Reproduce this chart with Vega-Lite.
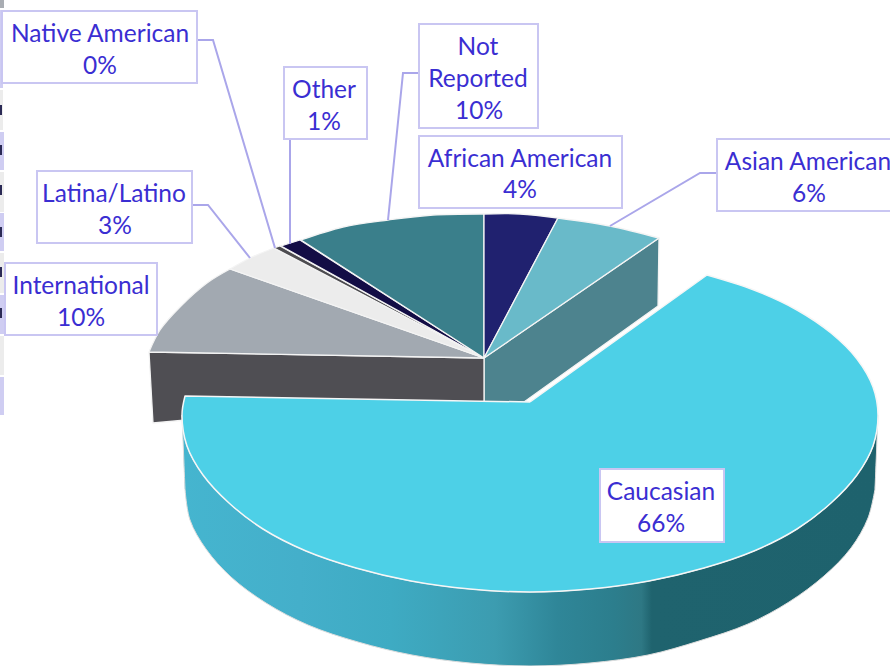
{
"$schema":"https://vega.github.io/schema/vega-lite/v6.json",
"width":890,"height":666,"padding":0,
"autosize":"none",
"background":"white",
"config":{"view":{"stroke":null}},
"datasets":{
"walls":[
{"part":"Asian wall","i":1,"x":484,"y":358},{"part":"Asian wall","i":2,"x":659,"y":238},{"part":"Asian wall","i":3,"x":658,"y":306},{"part":"Asian wall","i":4,"x":524,"y":402},{"part":"Asian wall","i":5,"x":484,"y":402},{"part":"Asian wall","i":6,"x":484,"y":358},
{"part":"International wall","i":1,"x":149,"y":352},{"part":"International wall","i":2,"x":484,"y":358},{"part":"International wall","i":3,"x":484,"y":402},{"part":"International wall","i":4,"x":186,"y":420},{"part":"International wall","i":5,"x":153,"y":423},{"part":"International wall","i":6,"x":149,"y":352}
],
"slices":[
{"part":"International","i":1,"x":484,"y":358},{"part":"International","i":2,"x":484,"y":358},{"part":"International","i":3,"x":149,"y":352},{"part":"International","i":4,"x":149,"y":352},{"part":"International","i":5,"x":160,"y":330},{"part":"International","i":6,"x":180,"y":307},{"part":"International","i":7,"x":207,"y":283},{"part":"International","i":8,"x":230,"y":269},{"part":"International","i":9,"x":230,"y":269},{"part":"International","i":10,"x":484,"y":358},{"part":"International","i":11,"x":484,"y":358},
{"part":"Latina/Latino","i":1,"x":484,"y":358},{"part":"Latina/Latino","i":2,"x":484,"y":358},{"part":"Latina/Latino","i":3,"x":230,"y":269},{"part":"Latina/Latino","i":4,"x":230,"y":269},{"part":"Latina/Latino","i":5,"x":250,"y":258},{"part":"Latina/Latino","i":6,"x":274,"y":248},{"part":"Latina/Latino","i":7,"x":274,"y":248},{"part":"Latina/Latino","i":8,"x":484,"y":358},{"part":"Latina/Latino","i":9,"x":484,"y":358},
{"part":"Native American","i":1,"x":484,"y":358},{"part":"Native American","i":2,"x":484,"y":358},{"part":"Native American","i":3,"x":274,"y":248},{"part":"Native American","i":4,"x":274,"y":248},{"part":"Native American","i":5,"x":280,"y":246},{"part":"Native American","i":6,"x":280,"y":246},{"part":"Native American","i":7,"x":484,"y":358},{"part":"Native American","i":8,"x":484,"y":358},
{"part":"Other","i":1,"x":484,"y":358},{"part":"Other","i":2,"x":484,"y":358},{"part":"Other","i":3,"x":281,"y":246},{"part":"Other","i":4,"x":281,"y":246},{"part":"Other","i":5,"x":300,"y":240},{"part":"Other","i":6,"x":300,"y":240},{"part":"Other","i":7,"x":484,"y":358},{"part":"Other","i":8,"x":484,"y":358},
{"part":"Not Reported","i":1,"x":484,"y":358},{"part":"Not Reported","i":2,"x":484,"y":358},{"part":"Not Reported","i":3,"x":301,"y":240},{"part":"Not Reported","i":4,"x":301,"y":240},{"part":"Not Reported","i":5,"x":343,"y":227},{"part":"Not Reported","i":6,"x":388,"y":220},{"part":"Not Reported","i":7,"x":433,"y":215},{"part":"Not Reported","i":8,"x":484,"y":214},{"part":"Not Reported","i":9,"x":484,"y":214},{"part":"Not Reported","i":10,"x":484,"y":358},{"part":"Not Reported","i":11,"x":484,"y":358},
{"part":"African American","i":1,"x":484,"y":358},{"part":"African American","i":2,"x":484,"y":358},{"part":"African American","i":3,"x":484,"y":214},{"part":"African American","i":4,"x":484,"y":214},{"part":"African American","i":5,"x":520,"y":214},{"part":"African American","i":6,"x":558,"y":218},{"part":"African American","i":7,"x":558,"y":218},{"part":"African American","i":8,"x":484,"y":358},{"part":"African American","i":9,"x":484,"y":358},
{"part":"Asian American","i":1,"x":484,"y":358},{"part":"Asian American","i":2,"x":484,"y":358},{"part":"Asian American","i":3,"x":558,"y":218},{"part":"Asian American","i":4,"x":558,"y":218},{"part":"Asian American","i":5,"x":610,"y":226},{"part":"Asian American","i":6,"x":659,"y":238},{"part":"Asian American","i":7,"x":659,"y":238},{"part":"Asian American","i":8,"x":484,"y":358},{"part":"Asian American","i":9,"x":484,"y":358}
],
"side":[
{"i":1,"x":182,"y":415},{"i":2,"x":182,"y":415},{"i":3,"x":187,"y":446},{"i":4,"x":203,"y":475},{"i":5,"x":229,"y":503},{"i":6,"x":263,"y":529},{"i":7,"x":306,"y":551},{"i":8,"x":356,"y":568},{"i":9,"x":411,"y":581},{"i":10,"x":470,"y":589},{"i":11,"x":530,"y":592},{"i":12,"x":590,"y":589},{"i":13,"x":649,"y":581},{"i":14,"x":704,"y":568},{"i":15,"x":754,"y":551},{"i":16,"x":797,"y":529},{"i":17,"x":831,"y":503},{"i":18,"x":857,"y":475},{"i":19,"x":873,"y":446},{"i":20,"x":878,"y":415},{"i":21,"x":878,"y":415},
{"i":22,"x":875,"y":489},{"i":23,"x":875,"y":489},{"i":24,"x":868,"y":518},{"i":25,"x":851,"y":548},{"i":26,"x":824,"y":576},{"i":27,"x":789,"y":602},{"i":28,"x":748,"y":624},{"i":29,"x":699,"y":641},{"i":30,"x":648,"y":655},{"i":31,"x":590,"y":663},{"i":32,"x":530,"y":666},{"i":33,"x":470,"y":663},{"i":34,"x":412,"y":655},{"i":35,"x":358,"y":642},{"i":36,"x":308,"y":625},{"i":37,"x":266,"y":603},{"i":38,"x":231,"y":577},{"i":39,"x":206,"y":549},{"i":40,"x":190,"y":520},{"i":41,"x":185,"y":489},{"i":42,"x":185,"y":489},{"i":43,"x":182,"y":415},{"i":44,"x":182,"y":415}
],
"top":[
{"i":1,"x":530,"y":402},{"i":2,"x":530,"y":402},{"i":3,"x":707,"y":275},{"i":4,"x":707,"y":275},{"i":5,"x":754,"y":290},{"i":6,"x":797,"y":310},{"i":7,"x":831,"y":333},{"i":8,"x":857,"y":359},{"i":9,"x":873,"y":387},{"i":10,"x":878,"y":415},{"i":11,"x":873,"y":446},{"i":12,"x":857,"y":475},{"i":13,"x":831,"y":503},{"i":14,"x":797,"y":529},{"i":15,"x":754,"y":551},{"i":16,"x":704,"y":568},{"i":17,"x":649,"y":581},{"i":18,"x":590,"y":589},{"i":19,"x":530,"y":592},{"i":20,"x":470,"y":589},{"i":21,"x":411,"y":581},{"i":22,"x":356,"y":568},{"i":23,"x":306,"y":551},{"i":24,"x":263,"y":529},{"i":25,"x":229,"y":503},{"i":26,"x":203,"y":475},{"i":27,"x":187,"y":446},{"i":28,"x":182,"y":415},{"i":29,"x":185,"y":396},{"i":30,"x":185,"y":396},{"i":31,"x":530,"y":402},{"i":32,"x":530,"y":402}
],
"leaders":[
{"to":"Native American","i":1,"x":198,"y":40},{"to":"Native American","i":2,"x":213,"y":40},{"to":"Native American","i":3,"x":275,"y":248},
{"to":"Latina/Latino","i":1,"x":192,"y":205},{"to":"Latina/Latino","i":2,"x":208,"y":205},{"to":"Latina/Latino","i":3,"x":250,"y":258},
{"to":"Other","i":1,"x":290,"y":139},{"to":"Other","i":2,"x":290,"y":244},
{"to":"Not Reported","i":1,"x":419,"y":73},{"to":"Not Reported","i":2,"x":403,"y":73},{"to":"Not Reported","i":3,"x":388,"y":220},
{"to":"Asian American","i":1,"x":717,"y":173},{"to":"Asian American","i":2,"x":700,"y":173},{"to":"Asian American","i":3,"x":610,"y":226}
],
"boxes":[
{"name":"Native American","x":2,"x2":197,"y":11,"y2":83},
{"name":"Other","x":284,"x2":367,"y":67,"y2":139},
{"name":"Not Reported","x":419,"x2":538,"y":24,"y2":128},
{"name":"African American","x":419,"x2":622,"y":136,"y2":208},
{"name":"Asian American","x":717,"x2":896,"y":139,"y2":211},
{"name":"Latina/Latino","x":37,"x2":192,"y":171,"y2":243},
{"name":"International","x":5,"x2":157,"y":263,"y2":335},
{"name":"Caucasian","x":600,"x2":724,"y":469,"y2":542}
],
"texts":[
{"t":"Native American","x":100,"y":33},{"t":"0%","x":100,"y":65},
{"t":"Other","x":324,"y":89},{"t":"1%","x":324,"y":121},
{"t":"Not","x":478,"y":46},{"t":"Reported","x":478,"y":78},{"t":"10%","x":479,"y":110},
{"t":"African American","x":520,"y":158},{"t":"4%","x":520,"y":189},
{"t":"Asian American","x":808,"y":161},{"t":"6%","x":809,"y":193},
{"t":"Latina/Latino","x":114,"y":193},{"t":"3%","x":115,"y":225},
{"t":"International","x":81,"y":285},{"t":"10%","x":81,"y":317},
{"t":"Caucasian","x":661,"y":491},{"t":"66%","x":661,"y":523}
],
"edge":[
{"k":"grey","x":0,"x2":4,"y":0,"y2":8},
{"k":"lavender","x":0,"x2":3,"y":10,"y2":88},
{"k":"light","x":0,"x2":3,"y":90,"y2":130},
{"k":"lavender","x":0,"x2":4,"y":132,"y2":170},
{"k":"light","x":0,"x2":4,"y":172,"y2":212},
{"k":"lavender","x":0,"x2":4,"y":213,"y2":251},
{"k":"light","x":0,"x2":4,"y":253,"y2":293},
{"k":"lavender","x":0,"x2":4,"y":295,"y2":334},
{"k":"light","x":0,"x2":4,"y":336,"y2":375},
{"k":"lavender","x":0,"x2":4,"y":377,"y2":415},
{"k":"ink","x":0,"x2":2,"y":105,"y2":115},
{"k":"ink","x":0,"x2":2,"y":145,"y2":155},
{"k":"ink","x":0,"x2":2,"y":185,"y2":195},
{"k":"ink","x":0,"x2":2,"y":227,"y2":237},
{"k":"ink","x":0,"x2":2,"y":267,"y2":277},
{"k":"ink","x":0,"x2":2,"y":308,"y2":318}
]
},
"encoding":{
"x":{"field":"x","type":"quantitative","scale":{"domain":[0,890],"nice":false,"zero":false},"axis":null},
"y":{"field":"y","type":"quantitative","scale":{"domain":[666,0],"nice":false,"zero":false},"axis":null}
},
"layer":[
{"data":{"name":"edge"},"mark":{"type":"rect"},
 "encoding":{"x2":{"field":"x2"},"y2":{"field":"y2"},
 "color":{"field":"k","type":"nominal","legend":null,"scale":{"domain":["grey","lavender","light","ink"],"range":["#a9adb3","#cfcdf2","#ececec","#2b2a55"]}}}},
{"data":{"name":"walls"},"mark":{"type":"line","filled":true,"stroke":"#f4f4f4","strokeWidth":1.3,"strokeJoin":"round"},
 "encoding":{"order":{"field":"i","type":"quantitative"},"detail":{"field":"part"},
 "fill":{"field":"part","type":"nominal","legend":null,"scale":{"domain":["Asian wall","International wall","International","Latina/Latino","Native American","Other","Not Reported","African American","Asian American"],"range":["#4d838e","#4f4e53","#a2a9b1","#ececec","#4d4c50","#130d45","#3a7f8b","#20216f","#69bac9"]}}}},
{"data":{"name":"slices"},"mark":{"type":"line","filled":true,"interpolate":"catmull-rom","stroke":"#f4f4f4","strokeWidth":1.3,"strokeJoin":"round"},
 "encoding":{"order":{"field":"i","type":"quantitative"},"detail":{"field":"part"},
 "fill":{"field":"part","type":"nominal","legend":null,"scale":{"domain":["Asian wall","International wall","International","Latina/Latino","Native American","Other","Not Reported","African American","Asian American"],"range":["#4d838e","#4f4e53","#a2a9b1","#ececec","#4d4c50","#130d45","#3a7f8b","#20216f","#69bac9"]}}}},
{"data":{"name":"side"},"mark":{"type":"line","filled":true,"interpolate":"catmull-rom","stroke":"#dddddd","strokeWidth":1,"fill":{"gradient":"linear","x1":0,"x2":1,"y1":0,"y2":0,"stops":[{"offset":0,"color":"#45b5cf"},{"offset":0.17,"color":"#44afca"},{"offset":0.3,"color":"#3eabc3"},{"offset":0.45,"color":"#3c9cb0"},{"offset":0.54,"color":"#2f8698"},{"offset":0.62,"color":"#2c7e8d"},{"offset":0.66,"color":"#2e7884"},{"offset":0.675,"color":"#1f636e"},{"offset":1,"color":"#1e626d"}]}},
 "encoding":{"order":{"field":"i","type":"quantitative"}}},
{"data":{"name":"top"},"mark":{"type":"line","filled":true,"interpolate":"catmull-rom","fill":"#4dd0e7","stroke":"#f6f6f6","strokeWidth":1.5,"strokeJoin":"round"},
 "encoding":{"order":{"field":"i","type":"quantitative"}}},
{"data":{"name":"leaders"},"mark":{"type":"line","stroke":"#aaa6ea","strokeWidth":2},
 "encoding":{"order":{"field":"i","type":"quantitative"},"detail":{"field":"to"}}},
{"data":{"name":"boxes"},"mark":{"type":"rect","fill":"white","stroke":"#c9c6f2","strokeWidth":2},
 "encoding":{"x2":{"field":"x2"},"y2":{"field":"y2"}}},
{"data":{"name":"texts"},"mark":{"type":"text","font":"Lato","fontSize":24.5,"color":"#3a2ed2","align":"center","baseline":"middle","dy":2},
 "encoding":{"text":{"field":"t"}}}
]
}
